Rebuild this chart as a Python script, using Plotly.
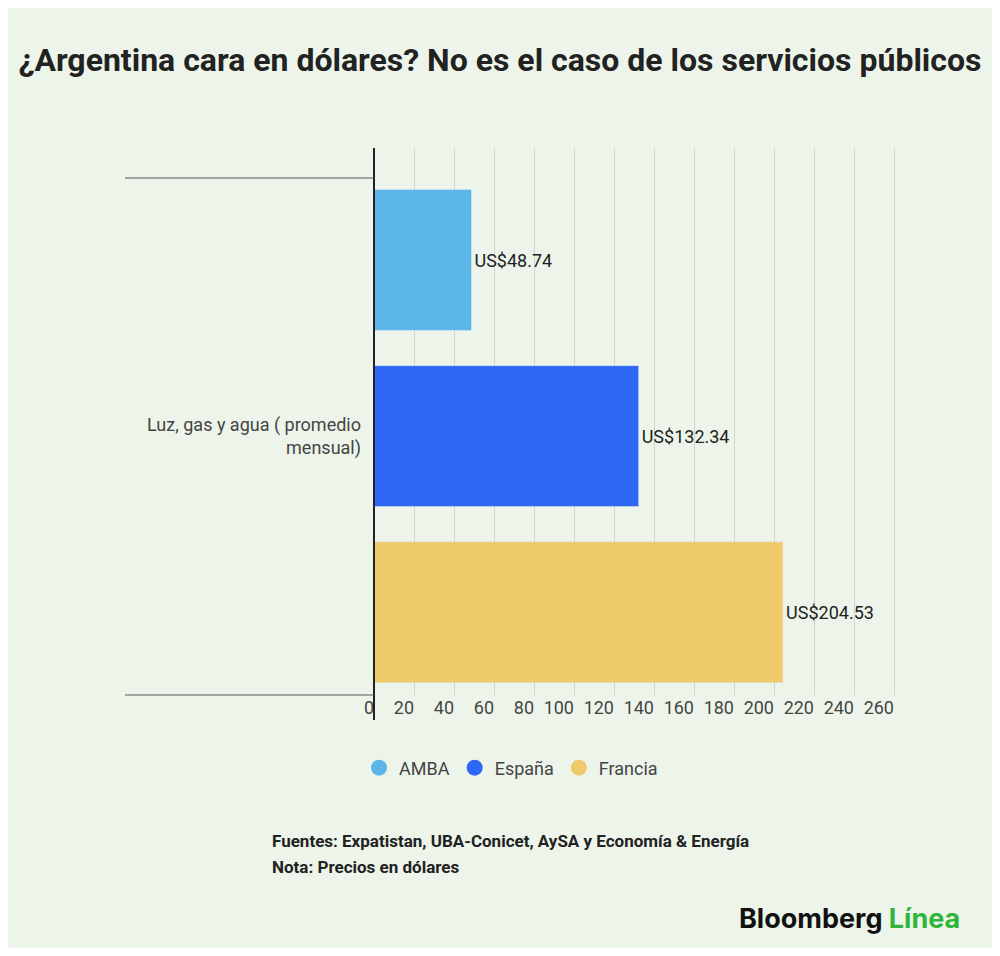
import plotly.graph_objects as go

series = ["AMBA", "España", "Francia"]
values = [48.74, 132.34, 204.53]
colors = ["#5bb5e6", "#2e66f5", "#efca6b"]
category = "Luz, gas y agua ( promedio<br>mensual)"
tickvals = list(range(0, 261, 20))

fig = go.Figure()
for i, (s, v, c) in enumerate(zip(series, values, colors)):
    fig.add_trace(go.Bar(x=[v], y=[i], orientation="h", marker_color=c, width=0.8,
                         text=[f"US${v:.2f}"], textposition="outside",
                         textfont=dict(size=18, color="#222"), cliponaxis=False,
                         showlegend=False, hoverinfo="skip"))
    fig.add_trace(go.Scatter(x=[None], y=[None], mode="markers", name=s,
                             marker=dict(color=c, size=20, symbol="circle")))

bg = "#edf5ea"
W, H = 984, 940
fig.update_layout(
    width=W, height=H, paper_bgcolor=bg, plot_bgcolor=bg,
    margin=dict(l=366, r=W - 890, t=140, b=H - 687),
    font=dict(family="Roboto, sans-serif", color="#444"),
    title=dict(text="<b>¿Argentina cara en dólares? No es el caso de los servicios públicos</b>",
               x=0.5, xanchor="center", y=1 - 52/H, yanchor="middle",
               font=dict(size=32, color="#222")),
    xaxis=dict(range=[0, 262], tickvals=tickvals, showgrid=True, gridcolor="#d0d6cc",
               gridwidth=1, zeroline=False, ticklabelposition="outside left",
               tickfont=dict(size=18, color="#444"), ticks=""),
    yaxis=dict(range=[2.47, -0.636], tickvals=[1], ticktext=[category], showgrid=False,
               zeroline=False, showline=False, ticklabelstandoff=12,
               tickfont=dict(size=18, color="#444")),
    legend=dict(orientation="h", x=137/524, xanchor="center", y=-73/547, yanchor="middle",
                font=dict(size=18, color="#444"), bgcolor="rgba(0,0,0,0)"),
    bargap=0.2,
)
fig.add_shape(type="line", xref="paper", yref="paper", x0=0, x1=0, y0=-25/547, y1=1,
              line=dict(color="#222", width=2))
for yy in [1 - 30/547, 0]:
    fig.add_shape(type="line", xref="paper", yref="paper", x0=-249/524, x1=0, y0=yy, y1=yy,
                  line=dict(color="#555", width=1))
fig.add_annotation(xref="paper", yref="paper", x=-104/524, y=-146/547, xanchor="left",
                   yanchor="middle", showarrow=False, align="left",
                   text="<b>Fuentes: Expatistan, UBA-Conicet, AySA y Economía &amp; Energía</b>",
                   font=dict(size=17, color="#222"))
fig.add_annotation(xref="paper", yref="paper", x=-104/524, y=-172/547, xanchor="left",
                   yanchor="middle", showarrow=False, align="left",
                   text="<b>Nota: Precios en dólares</b>", font=dict(size=17, color="#222"))
fig.add_annotation(xref="paper", yref="paper", x=588/524, y=-223/547, xanchor="right",
                   yanchor="middle", showarrow=False,
                   text="<b>Bloomberg <span style='color:#2fb53a'>Línea</span></b>",
                   font=dict(size=27, color="#111", family="Inter, Roboto, sans-serif"))
fig.write_html("out.html")
